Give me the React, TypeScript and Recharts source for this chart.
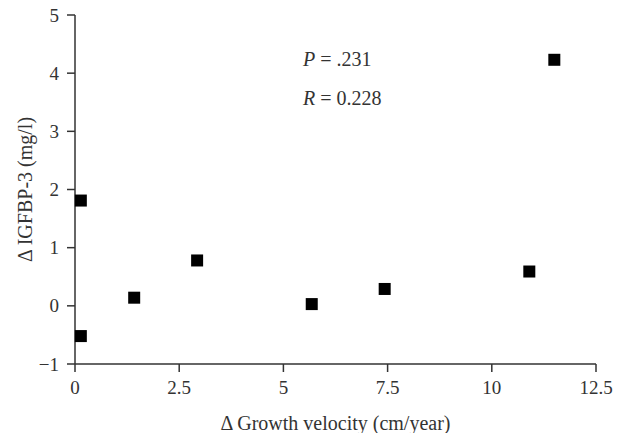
import React from 'react';
import { ScatterChart, Scatter, XAxis, YAxis, ReferenceDot } from 'recharts';

const velocity = [0.14, 0.14, 1.42, 2.93, 5.68, 7.43, 10.9, 11.5];
const igfbp = [1.81, -0.52, 0.14, 0.78, 0.03, 0.29, 0.59, 4.23];
const xTicks = [0, 2.5, 5, 7.5, 10, 12.5];
const yTicks = [-1, 0, 1, 2, 3, 4, 5];

const data = velocity.map((v, i) => ({ x: v, y: igfbp[i] }));

const font = '"Liberation Serif", "DejaVu Serif", serif';
const ink = '#333';
const TICK = 8;
const GAP = 8;

const StatText = ({ viewBox, name, value }: any) => {
  if (!viewBox) return null;
  return (
    <text x={viewBox.x} y={viewBox.y} dy="0.35em" fontFamily={font} fontSize={20} fill={ink}>
      <tspan fontStyle="italic">{name}</tspan>
      <tspan> = {value}</tspan>
    </text>
  );
};

const fmtY = (v: number) => (v < 0 ? '\u2212' + Math.abs(v) : String(v));

const XTick = ({ x, y, payload }: any) => (
  <text x={x} y={y} dy="0.75em" textAnchor="middle" fontFamily={font} fontSize={19} fill={ink}>
    {payload.value}
  </text>
);

const YTick = ({ x, y, payload }: any) => (
  <text x={x} y={y} dy="0.35em" textAnchor="end" fontFamily={font} fontSize={19} fill={ink}>
    {fmtY(payload.value)}
  </text>
);

const Square = ({ cx, cy }: any) => <rect x={cx - 6} y={cy - 6} width={12} height={12} fill="#000" />;

const App: React.FC = () => {
  return (
    <div style={{ position: 'absolute', left: 0, top: 0, background: '#fff' }}>
      <ScatterChart
        width={621}
        height={433}
        margin={{ top: 15, right: 25, bottom: 0, left: 0 }}
        style={{ fontFamily: font }}
      >
        <XAxis
          type="number"
          dataKey="x"
          domain={[0, 12.5]}
          ticks={xTicks}
          height={69}
          stroke={ink}
          axisLine={{ stroke: ink, strokeWidth: 1.5 }}
          tickLine={{ stroke: ink, strokeWidth: 1.5 }}
          tickSize={TICK}
          tickMargin={GAP}
          tick={<XTick />}
          label={{ value: '\u0394 Growth velocity (cm/year)', position: 'insideBottom', offset: 3, fill: ink, fontSize: 20, fontFamily: font }}
        />
        <YAxis
          type="number"
          dataKey="y"
          domain={[-1, 5]}
          ticks={yTicks}
          width={75}
          stroke={ink}
          axisLine={{ stroke: ink, strokeWidth: 1.5 }}
          tickLine={{ stroke: ink, strokeWidth: 1.5 }}
          tickSize={TICK}
          tickMargin={GAP}
          tick={<YTick />}
          label={{ value: '\u0394 IGFBP-3 (mg/l)', angle: -90, position: 'insideLeft', offset: 25, fill: ink, fontSize: 20, fontFamily: font, style: { textAnchor: 'middle' } }}
        />
        <ReferenceDot x={5.47} y={4.24} r={0} label={<StatText name="P" value=".231" />} />
        <ReferenceDot x={5.47} y={3.57} r={0} label={<StatText name="R" value="0.228" />} />
        <Scatter data={data} fill="#000" shape={<Square />} isAnimationActive={false} />
      </ScatterChart>
    </div>
  );
};

export default App;
